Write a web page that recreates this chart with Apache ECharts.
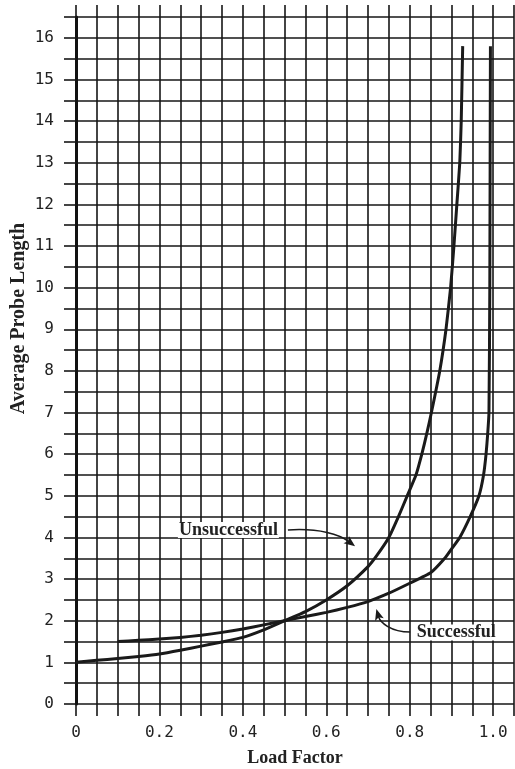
<!DOCTYPE html>
<html>
<head>
<meta charset="utf-8">
<script src="https://cdn.jsdelivr.net/npm/echarts@6/dist/echarts.min.js"></script>
<style>
html,body{margin:0;padding:0;background:#fff;}
#chart{width:515px;height:769px;}
</style>
</head>
<body>
<div id="chart"></div>
<script>
// ---- data ----
const unsLoad = [0, 0.05, 0.1, 0.15, 0.2, 0.25, 0.3, 0.35, 0.4, 0.45, 0.5, 0.55, 0.6, 0.65, 0.7, 0.72, 0.75, 0.773, 0.794, 0.815, 0.829, 0.841, 0.852, 0.872, 0.887, 0.898, 0.906, 0.913, 0.92, 0.9235, 0.927];
const unsProbe = [1, 1.05, 1.09, 1.14, 1.2, 1.29, 1.39, 1.49, 1.6, 1.78, 2.0, 2.22, 2.5, 2.84, 3.3, 3.55, 4.0, 4.5, 5.0, 5.5, 6.0, 6.5, 7.0, 8.0, 9.0, 10, 11, 12, 13, 14, 15.8];

const sucLoad = [0.1, 0.15, 0.2, 0.25, 0.3, 0.35, 0.4, 0.45, 0.5, 0.55, 0.6, 0.65, 0.7, 0.75, 0.8, 0.85, 0.884, 0.9, 0.92, 0.945, 0.966, 0.977, 0.983, 0.987, 0.99, 0.992, 0.9935];
const sucProbe = [1.5, 1.53, 1.56, 1.6, 1.65, 1.72, 1.8, 1.9, 2.0, 2.1, 2.2, 2.32, 2.46, 2.66, 2.9, 3.15, 3.5, 3.72, 4.0, 4.5, 5.0, 5.5, 6.0, 6.5, 7.0, 10, 15.8];

const xTickValues = [0, 0.2, 0.4, 0.6, 0.8, 1.0];
const xTickLabels = ['0', '0.2', '0.4', '0.6', '0.8', '1.0'];
const xAxisName = 'Load Factor';
const yAxisName = 'Average Probe Length';

// annotation anchors in data coordinates
const unsLabel = {text: 'Unsuccessful', at: [0.484, 4.18]};
const unsArrow = [[0.508, 4.18], [0.585, 4.23], [0.633, 4.06], [0.669, 3.79]];
const sucLabel = {text: 'Successful', at: [0.817, 1.72]};
const sucArrow = [[0.801, 1.73], [0.753, 1.73], [0.729, 1.97], [0.720, 2.28]];

const zip = (a, b) => a.map((v, i) => [v, b[i]]);

const ink = '#1a1a1a';
const gridColor = '#161616';
const chart = echarts.init(document.getElementById('chart'), null, {renderer: 'canvas'});

const xLabelFmt = v => {
  const i = xTickValues.findIndex(t => Math.abs(t - v) < 1e-9);
  return i >= 0 ? xTickLabels[i] : '';
};

chart.setOption({
  animation: false,
  backgroundColor: '#fff',
  grid: {left: 76, right: 1, top: 17, bottom: 65, containLabel: false, outerBoundsMode: 'none'},
  xAxis: [{
    type: 'value', min: 0, max: 1.05, interval: 0.05, position: 'bottom',
    axisLine: {show: false},
    axisTick: {show: true, length: 12, lineStyle: {color: gridColor, width: 1.6}},
    splitLine: {show: true, lineStyle: {color: gridColor, width: 1.6}},
    axisLabel: {
      formatter: xLabelFmt, margin: 21, color: '#222',
      fontFamily: 'DejaVu Sans Mono', fontSize: 16, showMinLabel: true, showMaxLabel: true, hideOverlap: false
    },
    name: xAxisName, nameLocation: 'middle', nameGap: 45, nameMoveOverlap: false,
    nameTextStyle: {fontFamily: 'Liberation Serif', fontWeight: 'bold', fontSize: 18, color: '#222'}
  }, {
    type: 'value', min: 0, max: 1.05, interval: 0.05, position: 'top',
    axisLine: {show: false},
    axisTick: {show: true, length: 12, lineStyle: {color: gridColor, width: 1.6}},
    splitLine: {show: false},
    axisLabel: {show: false}
  }],
  yAxis: {
    type: 'value', min: 0, max: 16.5, interval: 0.5,
    axisLine: {show: true, lineStyle: {color: '#111', width: 3}},
    axisTick: {show: true, length: 12, lineStyle: {color: gridColor, width: 1.6}},
    splitLine: {show: true, lineStyle: {color: gridColor, width: 1.6}},
    axisLabel: {
      formatter: v => (Math.abs(v - Math.round(v)) < 1e-9 ? String(Math.round(v)) : ''),
      margin: 22, color: '#222', fontFamily: 'DejaVu Sans Mono', fontSize: 16
    },
    name: yAxisName, nameLocation: 'middle', nameGap: 47, nameMoveOverlap: false,
    nameTextStyle: {fontFamily: 'Liberation Serif', fontWeight: 'bold', fontSize: 20, color: '#222', padding: [0, 0, 0, 84]}
  },
  series: [{
    name: 'Unsuccessful', type: 'line', xAxisIndex: 0, data: zip(unsLoad, unsProbe),
    showSymbol: false, smooth: 0.15, z: 5,
    lineStyle: {color: ink, width: 3, cap: 'butt', join: 'round'}
  }, {
    name: 'Successful', type: 'line', xAxisIndex: 0, data: zip(sucLoad, sucProbe),
    showSymbol: false, smooth: 0.15, z: 5,
    lineStyle: {color: ink, width: 3, cap: 'butt', join: 'round'}
  }]
});

function px(p) { return chart.convertToPixel({xAxisIndex: 0, yAxisIndex: 0}, p); }

function arrowGraphics(pts) {
  const [p0, p1, p2, p3] = pts.map(px);
  const dx = p3[0] - p2[0], dy = p3[1] - p2[1];
  const len = Math.hypot(dx, dy) || 1;
  const ux = dx / len, uy = dy / len;
  const L = 11, W = 4.5;
  const bx = p3[0] - ux * L, by = p3[1] - uy * L;
  const head = [[p3[0], p3[1]], [bx - uy * W, by + ux * W], [bx + ux * 2.5, by + uy * 2.5], [bx + uy * W, by - ux * W]];
  const e = [p3[0] - ux * 8, p3[1] - uy * 8];
  return [{
    type: 'bezierCurve', z: 10,
    shape: {x1: p0[0], y1: p0[1], cpx1: p1[0], cpy1: p1[1], cpx2: p2[0], cpy2: p2[1], x2: e[0], y2: e[1]},
    style: {stroke: ink, lineWidth: 1.5, fill: null}
  }, {
    type: 'polygon', z: 10, shape: {points: head}, style: {fill: ink, stroke: null}
  }];
}

const a = px(unsLabel.at), b = px(sucLabel.at);
chart.setOption({
  graphic: [
    {type: 'rect', z: 9, shape: {x: a[0] - 100, y: a[1] - 8, width: 101, height: 16}, style: {fill: '#fff'}},
    {type: 'text', z: 11, x: a[0], y: a[1], style: {text: unsLabel.text, align: 'right', verticalAlign: 'middle',
      font: 'bold 18px "Liberation Serif"', fill: '#222'}},
    {type: 'rect', z: 9, shape: {x: b[0] - 1, y: b[1] - 8, width: 82, height: 16}, style: {fill: '#fff'}},
    {type: 'text', z: 11, x: b[0], y: b[1], style: {text: sucLabel.text, align: 'left', verticalAlign: 'middle',
      font: 'bold 18px "Liberation Serif"', fill: '#222'}}
  ].concat(arrowGraphics(unsArrow), arrowGraphics(sucArrow))
});
</script>
</body>
</html>
